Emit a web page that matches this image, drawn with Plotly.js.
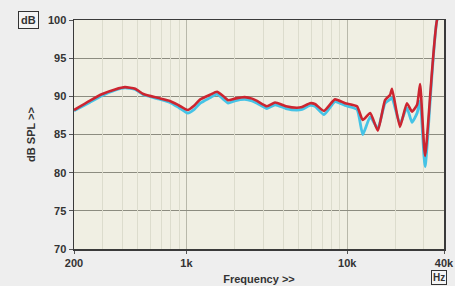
<!DOCTYPE html>
<html>
<head>
<meta charset="utf-8">
<script src="https://cdn.plot.ly/plotly-3.0.1.min.js"></script>
<style>
html,body{margin:0;padding:0;background:#eeeeee;}
#chart{width:455px;height:286px;}
</style>
</head>
<body>
<div id="chart"></div>
<script>
// Frequencies (Hz)
const freqs = [200, 250, 300, 360, 415, 480, 540, 660, 790, 900, 1020, 1120, 1220, 1400, 1550, 1700, 1820, 2000, 2300, 2560, 2750, 3170, 3560, 4160, 4870, 5240, 5870, 6300, 7170, 8400, 9700, 11500, 12500, 13900, 15500, 17200, 18500, 19000, 21300, 23500, 25300, 27200, 28400, 30500, 36200, 41000];
// Red curve (dB SPL)
const redSPL = [88.2, 89.4, 90.3, 90.9, 91.2, 91.0, 90.3, 89.8, 89.4, 88.8, 88.2, 88.8, 89.6, 90.2, 90.6, 90.0, 89.5, 89.7, 89.9, 89.7, 89.4, 88.7, 89.2, 88.7, 88.5, 88.6, 89.1, 89.0, 88.1, 89.6, 89.1, 88.7, 86.9, 87.8, 85.5, 89.5, 90.2, 91.0, 86.0, 89.1, 88.0, 88.9, 91.6, 82.2, 100, 102.5];
// Cyan curve (dB SPL)
const cyanSPL = [88.1, 89.2, 90.1, 90.8, 91.1, 90.9, 90.2, 89.7, 89.2, 88.5, 87.8, 88.3, 89.1, 89.8, 90.3, 89.6, 89.1, 89.4, 89.6, 89.4, 89.1, 88.4, 88.9, 88.4, 88.2, 88.3, 88.8, 88.7, 87.6, 89.3, 88.8, 88.3, 85.0, 87.3, 85.8, 89.1, 89.6, 89.8, 86.4, 88.5, 86.6, 87.8, 89.4, 80.8, 100, 102.5];
// Axis ticks
const xTickVals = [200, 1000, 10000, 40000];
const xTickText = ['200', '1k', '10k', '40k'];
const yTickVals = [70, 75, 80, 85, 90, 95, 100];
const minorFreqs = [300, 400, 500, 600, 700, 800, 900, 2000, 3000, 4000, 5000, 6000, 7000, 8000, 9000, 20000, 30000];

const xr = [Math.log10(200), Math.log10(40000)];
const tickFont = {family: 'Liberation Sans, Arial, sans-serif', size: 11, color: '#333333', weight: 'bold'};

const traces = [
  {x: [200, 40000], y: [70, 70], xaxis: 'x2', type: 'scatter', mode: 'lines', line: {width: 0}, hoverinfo: 'skip'},
  {x: freqs, y: cyanSPL, type: 'scatter', mode: 'lines', line: {color: '#45c3e6', width: 2.8, shape: 'spline', smoothing: 0.5}, hoverinfo: 'skip'},
  {x: freqs, y: redSPL, type: 'scatter', mode: 'lines', line: {color: '#cc2530', width: 2.6, shape: 'spline', smoothing: 0.5}, hoverinfo: 'skip'}
];

const layout = {
  width: 455, height: 286,
  margin: {l: 74, r: 11, t: 20, b: 37},
  paper_bgcolor: '#eeeeee',
  plot_bgcolor: '#f0efe3',
  showlegend: false,
  xaxis: {
    type: 'log', range: xr,
    tickvals: xTickVals, ticktext: xTickText,
    tickfont: tickFont, ticks: 'outside', ticklen: 3, tickcolor: '#555',
    showgrid: true, gridcolor: '#b8b8aa', gridwidth: 1,
    showline: true, linecolor: '#3a3a3a', linewidth: 1.5, mirror: true,
    zeroline: false,
    title: {text: 'Frequency >>', font: {family: 'Liberation Sans, Arial, sans-serif', size: 11, color: '#333333', weight: 'bold'}, standoff: 7}
  },
  xaxis2: {
    type: 'log', range: xr, overlaying: 'x',
    tickvals: minorFreqs, showticklabels: false, ticks: '',
    showgrid: true, gridcolor: '#dcdccd', gridwidth: 1, zeroline: false
  },
  yaxis: {
    range: [70, 100], tickvals: yTickVals,
    tickfont: tickFont, ticks: 'outside', ticklen: 4, tickcolor: '#555',
    showgrid: true, gridcolor: '#8c8c80', gridwidth: 1,
    showline: true, linecolor: '#3a3a3a', linewidth: 1.5, mirror: true,
    zeroline: false,
    title: {text: 'dB SPL >>', font: {family: 'Liberation Sans, Arial, sans-serif', size: 11, color: '#333333', weight: 'bold'}, standoff: 10}
  },
  annotations: [
    {text: 'dB', xref: 'paper', yref: 'paper', x: -0.122, y: 1.0, xanchor: 'center', yanchor: 'middle', showarrow: false,
     font: {family: 'Liberation Sans, Arial, sans-serif', size: 11, color: '#333', weight: 'bold'}, bordercolor: '#333', borderwidth: 1, borderpad: 2, bgcolor: '#f4f4f4'},
    {text: 'Hz', xref: 'paper', yref: 'paper', x: 0.986, y: -0.125, xanchor: 'center', yanchor: 'middle', showarrow: false,
     font: {family: 'Liberation Sans, Arial, sans-serif', size: 10, color: '#333', weight: 'bold'}, bordercolor: '#333', borderwidth: 1, borderpad: 1, bgcolor: '#f4f4f4'}
  ]
};

Plotly.newPlot('chart', traces, layout, {staticPlot: true, displayModeBar: false});
</script>
</body>
</html>
